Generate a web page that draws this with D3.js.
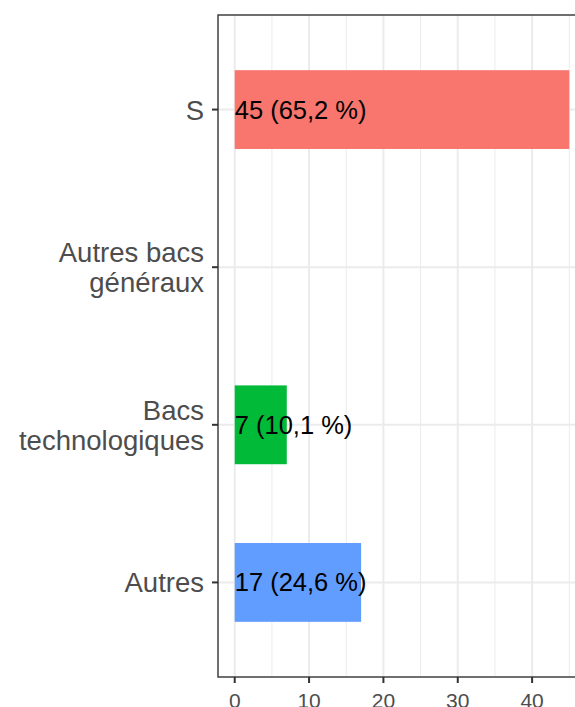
<!DOCTYPE html>
<html>
<head>
<meta charset="utf-8">
<script src="https://cdn.jsdelivr.net/npm/d3@7"></script>
<style>
  html, body { margin: 0; padding: 0; background: #fff; overflow: hidden; }
  svg { display: block; font-family: "Liberation Sans", Arial, sans-serif; }
</style>
</head>
<body>
<script>
const WIDTH = 575;
const HEIGHT = 707;

// data, top to bottom
const categories = [["S"], ["Autres bacs", "généraux"], ["Bacs", "technologiques"], ["Autres"]];
const counts = [45, 0, 7, 17];
const barColors = ["#F8766D", null, "#00BA38", "#619CFF"];
const xTicks = [0, 10, 20, 30, 40];
const xMinor = [5, 15, 25, 35, 45];

const total = d3.sum(counts);
const fmtPct = v => d3.format(".1f")(v).replace(".", ",");

const panel = { left: 218, right: 586, top: 15, bottom: 677 };

const x = d3.scaleLinear()
    .domain([-2.25, 47.25])
    .range([panel.left, panel.right]);

const y = d3.scalePoint()
    .domain(d3.range(categories.length))
    .range([panel.top, panel.bottom])
    .padding(0.6);

const barH = y.step() * 0.5;

const svg = d3.select("body").append("svg")
    .attr("width", WIDTH)
    .attr("height", HEIGHT);

const grid = svg.append("g").attr("stroke", "#ebebeb").attr("fill", "none");

grid.selectAll("line.minor")
    .data(xMinor)
    .join("line")
        .attr("class", "minor")
        .attr("x1", d => x(d)).attr("x2", d => x(d))
        .attr("y1", panel.top).attr("y2", panel.bottom)
        .attr("stroke-width", 1);

grid.selectAll("line.majorx")
    .data(xTicks)
    .join("line")
        .attr("class", "majorx")
        .attr("x1", d => x(d)).attr("x2", d => x(d))
        .attr("y1", panel.top).attr("y2", panel.bottom)
        .attr("stroke-width", 2);

grid.selectAll("line.majory")
    .data(d3.range(categories.length))
    .join("line")
        .attr("class", "majory")
        .attr("x1", panel.left).attr("x2", panel.right)
        .attr("y1", d => y(d)).attr("y2", d => y(d))
        .attr("stroke-width", 2);

const bars = d3.range(categories.length).filter(i => counts[i] > 0);

svg.append("g")
    .selectAll("rect")
    .data(bars)
    .join("rect")
        .attr("x", x(0))
        .attr("y", i => y(i) - barH / 2)
        .attr("width", i => x(counts[i]) - x(0))
        .attr("height", barH)
        .attr("fill", i => barColors[i]);

svg.append("g")
        .attr("font-size", 25.5)
        .attr("fill", "#000")
    .selectAll("text")
    .data(bars)
    .join("text")
        .attr("x", x(0))
        .attr("y", i => y(i) + 9)
        .text(i => `${counts[i]} (${fmtPct(counts[i] / total * 100)}\u00a0%)`);

// panel border (right side falls outside the window)
svg.append("rect")
    .attr("x", panel.left)
    .attr("y", panel.top)
    .attr("width", panel.right - panel.left)
    .attr("height", panel.bottom - panel.top)
    .attr("fill", "none")
    .attr("stroke", "#333")
    .attr("stroke-width", 1.4);

// y axis ticks and labels
const yAxis = svg.append("g");
yAxis.selectAll("line")
    .data(d3.range(categories.length))
    .join("line")
        .attr("x1", panel.left - 6).attr("x2", panel.left)
        .attr("y1", d => y(d)).attr("y2", d => y(d))
        .attr("stroke", "#333")
        .attr("stroke-width", 2);

const lineGap = 30;
yAxis.selectAll("text")
    .data(d3.range(categories.length))
    .join("text")
        .attr("text-anchor", "end")
        .attr("font-size", 27.5)
        .attr("fill", "#4d4d4d")
        .each(function(i) {
            const lines = categories[i];
            const first = y(i) + 10 - (lines.length - 1) * lineGap / 2;
            d3.select(this).selectAll("tspan")
                .data(lines)
                .join("tspan")
                    .attr("x", panel.left - 14)
                    .attr("y", (d, k) => first + k * lineGap)
                    .text(d => d);
        });

// x axis ticks and labels
const xAxis = svg.append("g");
xAxis.selectAll("line")
    .data(xTicks)
    .join("line")
        .attr("x1", d => x(d)).attr("x2", d => x(d))
        .attr("y1", panel.bottom).attr("y2", panel.bottom + 6)
        .attr("stroke", "#333")
        .attr("stroke-width", 2);

xAxis.selectAll("text")
    .data(xTicks)
    .join("text")
        .attr("x", d => x(d))
        .attr("y", panel.bottom + 31)
        .attr("text-anchor", "middle")
        .attr("font-size", 21)
        .attr("fill", "#4d4d4d")
        .text(d => d);
</script>
</body>
</html>
